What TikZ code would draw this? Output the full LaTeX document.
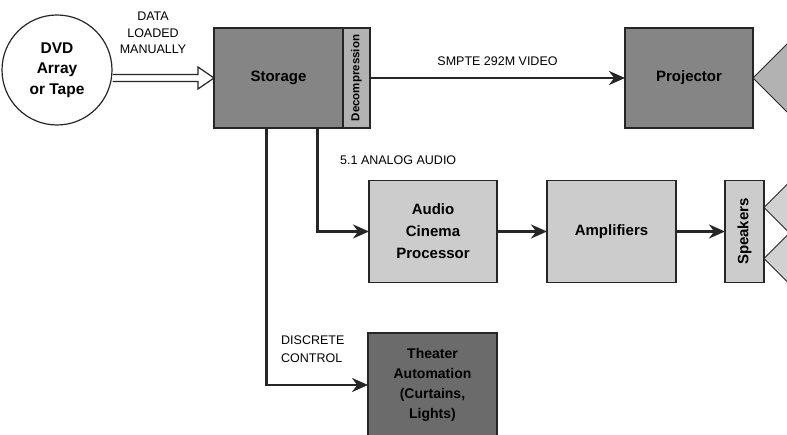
\documentclass[tikz,border=0pt]{standalone}
\usepackage{fontspec}
\setmainfont{Liberation Sans}
\usepackage{tikz}
\usetikzlibrary{arrows.meta,positioning,calc}

\begin{document}
\begin{tikzpicture}[x=1pt, y=-1pt, >=Stealth,
  box/.style={rectangle, draw=black!85, line width=1.2pt, inner sep=2pt, outer sep=0pt,
    minimum width=128pt, minimum height=102pt, align=center, font=\fontsize{15}{22}\selectfont\bfseries},
  darkbox/.style={box, fill=black!48},
  lightbox/.style={box, fill=black!20},
  cone/.style={draw=black!85, line width=1pt, fill=black!18},
  sig/.style={draw=black!85, line width=2.8pt, -{Stealth[length=16pt, width=14pt]}},
  lbl/.style={font=\fontsize{12.5}{16.5}\selectfont, align=center, inner sep=1pt}]
  \useasboundingbox (0,0) rectangle (787,435);
  \clip (0,0) rectangle (787,435);

  \node[circle, draw=black!85, line width=1.2pt, minimum size=110pt, align=center,
        font=\fontsize{15.5}{20.5}\selectfont\bfseries] (dvd) at (57,70) {DVD\\Array\\or Tape};
  \node[darkbox, minimum width=129pt, minimum height=100pt] (store) at (278.5,78) {Storage};
  \node[box, fill=black!30, minimum width=27pt, minimum height=100pt, inner sep=0pt,
        font=\fontsize{11.5}{13}\selectfont\bfseries, right=0pt of store] (decomp) {\rotatebox{90}{Decompression}};
  \node[darkbox, minimum height=100pt] (proj) at (689,78) {Projector};
  \node[lightbox] (audio) at (433,231.5) {Audio\\Cinema\\Processor};
  \node[lightbox, minimum width=129pt, right=50pt of audio] (amp) {Amplifiers};
  \node[lightbox, minimum width=39pt, inner sep=0pt, right=49pt of amp] (spk) {\rotatebox{90}{Speakers}};
  \node[darkbox, fill=black!58, minimum width=129pt, minimum height=104pt,
        font=\fontsize{14}{20}\selectfont\bfseries] (ctrl) at (432.5,385) {Theater\\Automation\\(Curtains,\\Lights)};

  \coordinate (tapA) at ($(store.south west)!0.41!(store.south east)$);
  \coordinate (tapB) at ($(store.south west)!0.80!(store.south east)$);

  \draw[line width=1.2pt, draw=black!85, fill=white]
    ($(dvd.east |- store.west)+(0,-3.5)$) -- ($(store.west)+(-16,-3.5)$) -- ($(store.west)+(-16,-11)$)
    -- (store.west) -- ($(store.west)+(-16,11)$) -- ($(store.west)+(-16,3.5)$)
    -- ($(dvd.east |- store.west)+(0,3.5)$);
  \node[lbl] (dataload) at (153,33) {DATA\\LOADED\\MANUALLY};

  \draw[sig] (decomp) -- node[lbl, above=10pt] (vidlbl) {SMPTE 292M VIDEO} (proj);
  \draw[sig] (tapB) |- (audio);
  \node[lbl, anchor=west] (audlbl) at (339,160) {5.1 ANALOG AUDIO};
  \draw[sig] (audio) -- (amp);
  \draw[sig] (amp) -- (spk);
  \draw[sig] (tapA) |- (ctrl);
  \node[lbl, font=\fontsize{12.5}{18}\selectfont, align=left, anchor=west] (ctllbl) at (280,349) {DISCRETE\\CONTROL};

  \draw[cone, fill=black!30] (proj.east) -- ++(45,-45) -- ++(0,90) -- cycle;
  \draw[cone] ($(spk.east)+(0,-24)$) -- ++(32,-32) -- ++(0,64) -- cycle;
  \draw[cone] ($(spk.east)+(0,27)$) -- ++(32,-32) -- ++(0,64) -- cycle;
\end{tikzpicture}
\end{document}
